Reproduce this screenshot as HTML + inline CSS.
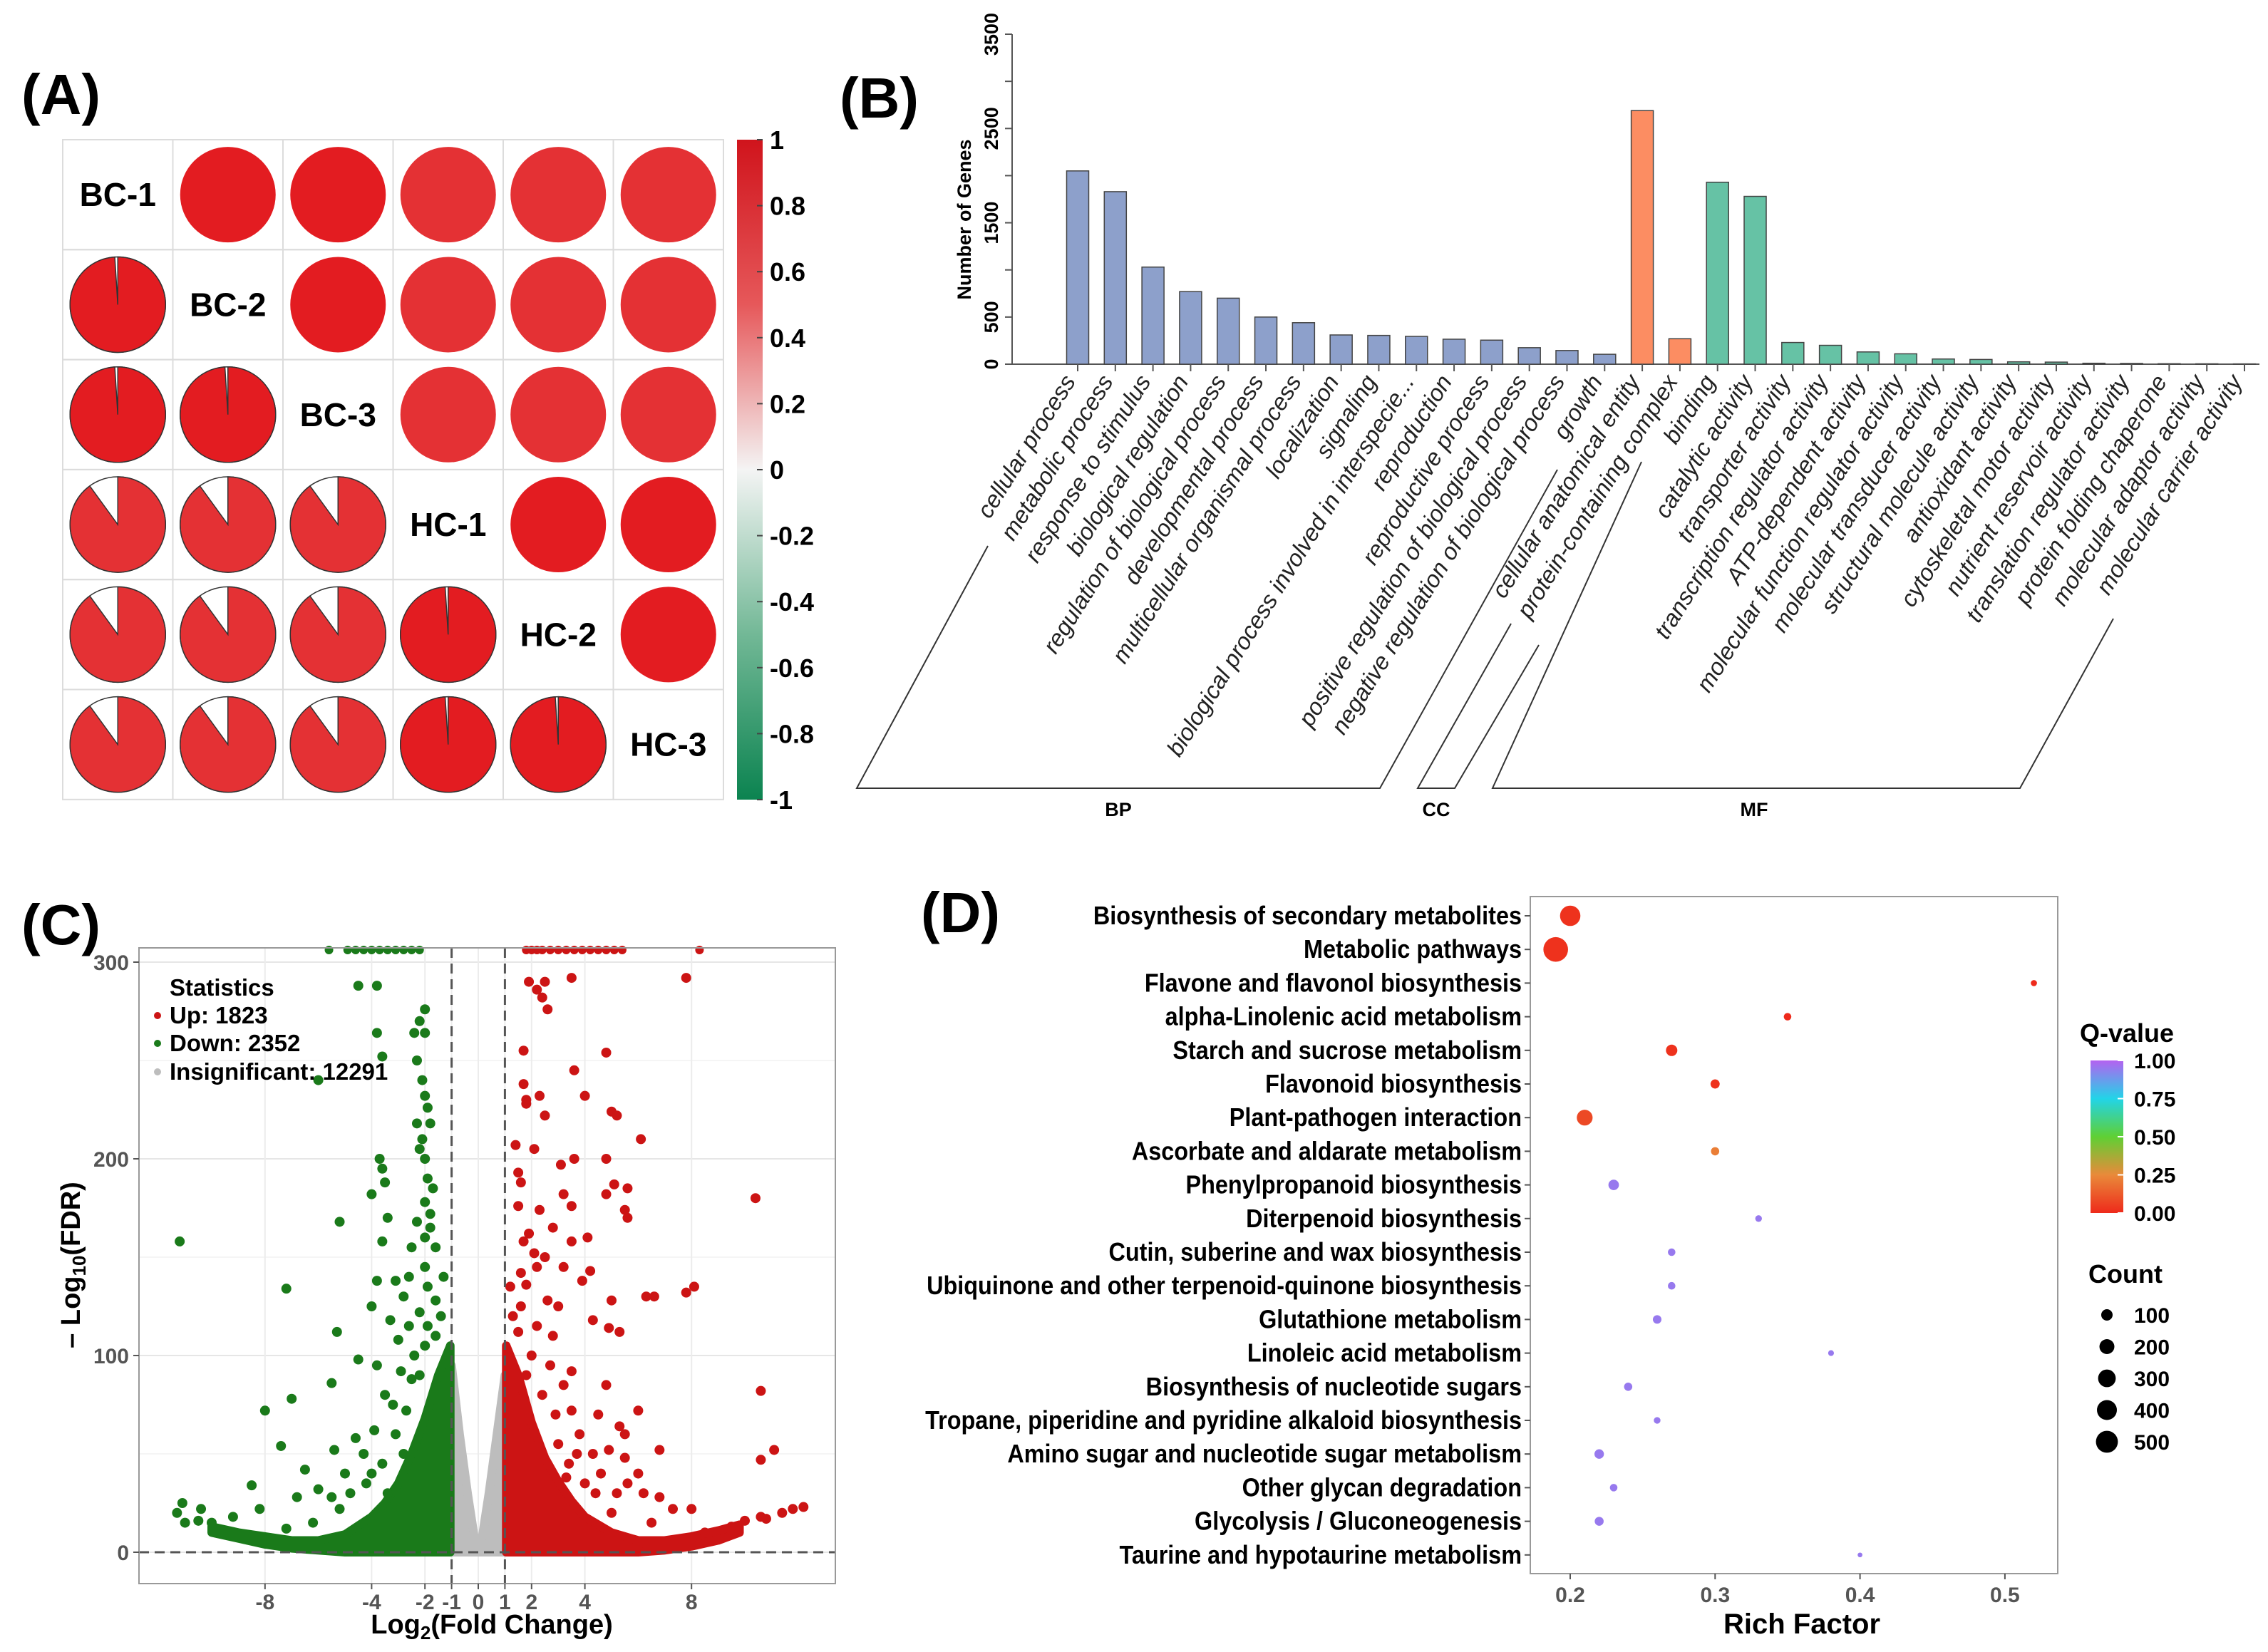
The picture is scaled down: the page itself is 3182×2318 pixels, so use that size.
<!DOCTYPE html>
<html><head><meta charset="utf-8"><style>
html,body{margin:0;padding:0;background:#fff}
svg{display:block}
text{font-family:"Liberation Sans",sans-serif}
</style></head><body>
<svg id="fig" width="3182" height="2318" viewBox="0 0 3182 2318" xmlns="http://www.w3.org/2000/svg">
<defs>
<linearGradient id="corrGrad" x1="0" y1="0" x2="0" y2="1">
<stop offset="0" stop-color="#d0141c"/><stop offset="0.25" stop-color="#e6585a"/><stop offset="0.5" stop-color="#f4f4f4"/><stop offset="0.75" stop-color="#72b896"/><stop offset="1" stop-color="#0b8350"/>
</linearGradient>
<linearGradient id="qGrad" x1="0" y1="1" x2="0" y2="0">
<stop offset="0" stop-color="#ee2a1b"/><stop offset="0.25" stop-color="#e98a3a"/><stop offset="0.5" stop-color="#5fd034"/><stop offset="0.75" stop-color="#22d4e8"/><stop offset="1" stop-color="#b462f0"/>
</linearGradient>
</defs>
<g id="pA"></g>
<g id="pB"></g>
<g id="pC"></g>
<g id="pD"></g>
</svg>
<script>
// ---------- Panel A data ----------
const samples = ["BC-1","BC-2","BC-3","HC-1","HC-2","HC-3"];
const corrMatrix = [
 [1,0.99,0.99,0.90,0.90,0.90],
 [0.99,1,0.99,0.90,0.90,0.90],
 [0.99,0.99,1,0.90,0.90,0.90],
 [0.90,0.90,0.90,1,0.99,0.99],
 [0.90,0.90,0.90,0.99,1,0.99],
 [0.90,0.90,0.90,0.99,0.99,1]];
const corrTicks = [1,0.8,0.6,0.4,0.2,0,-0.2,-0.4,-0.6,-0.8,-1];

// ---------- Panel B data ----------
const goTerms = ["cellular process","metabolic process","response to stimulus","biological regulation","regulation of biological process","developmental process","multicellular organismal process","localization","signaling","biological process involved in interspecie...","reproduction","reproductive process","positive regulation of biological process","negative regulation of biological process","growth","cellular anatomical entity","protein-containing complex","binding","catalytic activity","transporter activity","transcription regulator activity","ATP-dependent activity","molecular function regulator activity","molecular transducer activity","structural molecule activity","antioxidant activity","cytoskeletal motor activity","nutrient reservoir activity","translation regulator activity","protein folding chaperone","molecular adaptor activity","molecular carrier activity"];
const goCounts = [2050,1830,1030,770,700,500,440,310,305,295,265,255,175,145,105,2690,270,1930,1780,230,200,130,110,55,50,25,22,10,8,5,4,3];
const goClass = ["BP","BP","BP","BP","BP","BP","BP","BP","BP","BP","BP","BP","BP","BP","BP","CC","CC","MF","MF","MF","MF","MF","MF","MF","MF","MF","MF","MF","MF","MF","MF","MF"];
const goTicks = [0,500,1500,2500,3500];

// ---------- Panel C data ----------
const upPts = [[1.9,290],[2.2,286],[2.5,290],[2.4,282],[2.6,276],[3.5,292],[7.8,292],[1.7,255],[4.8,254],[3.6,245],[1.7,238],[2.3,232],[1.8,230],[4,232],[1.8,228],[2.5,222],[5,224],[5.2,222],[6.1,210],[1.4,207],[2.1,205],[1.5,193],[3.1,197],[3.6,200],[4.8,200],[1.6,188],[5.1,187],[5.6,185],[3.2,182],[4.8,182],[1.5,176],[2.3,174],[3.5,176],[5.5,174],[5.6,170],[10.4,180],[1.9,162],[2.8,165],[4.1,160],[3.5,158],[1.7,158],[2.1,152],[2.5,150],[2.2,145],[3.2,145],[4.2,143],[1.6,142],[1.8,136],[3.9,138],[6.3,130],[6.6,130],[7.8,132],[8.1,135],[4.3,118],[3,125],[5,128],[4.9,114],[5.3,112],[3.5,92],[4.8,85],[10.6,82],[6,72],[4.5,70],[3.5,72],[5.3,64],[6.8,52],[10.6,47],[11.1,52],[5.5,60],[4.3,50],[4.9,52],[5.5,48],[6,40],[4,35],[5.6,35],[6.2,30],[7.3,22],[8,22],[11.8,22],[12.2,23],[11.4,20],[10.6,18],[10.8,17],[10,16],[9.5,13],[8.5,10],[1.3,120],[1.5,112],[2,100],[2.7,95],[3.2,85],[1.8,90],[2.4,80],[3.8,60],[3,55],[4.6,40],[5.2,30],[6.8,28],[3.4,45],[2.8,110],[1.2,135],[2.6,128],[2.2,115],[1.6,125],[2.9,70],[3.7,50],[4.4,30],[5,20],[6.5,15],[2.1,60],[3.3,38]];
const upTop = [1.8,2.0,2.2,2.4,2.7,3.0,3.3,3.6,3.9,4.2,4.5,4.8,5.1,5.4,8.3];
const downPts = [[-4.5,288],[-3.8,288],[-2,276],[-2.2,270],[-3.8,264],[-2.4,264],[-2,264],[-2.3,250],[-6,240],[-3.6,252],[-2.1,240],[-2,232],[-1.9,226],[-2.3,218],[-1.8,218],[-2.1,210],[-2.2,205],[-3.7,200],[-3.6,195],[-2,200],[-1.9,190],[-3.5,188],[-4,182],[-1.7,185],[-2,178],[-1.8,172],[-3.4,170],[-1.8,165],[-5.2,168],[-2.3,168],[-2,160],[-2.5,155],[-3.6,158],[-1.6,155],[-11.2,158],[-2,145],[-2.6,140],[-3.8,138],[-3.1,138],[-1.9,135],[-7.2,134],[-1.6,128],[-2.8,130],[-4,125],[-2.2,122],[-3.3,118],[-1.9,115],[-5.3,112],[-3,108],[-2,105],[-4.5,98],[-3.8,95],[-5.5,86],[-2.5,88],[-7,78],[-8,72],[-3.2,75],[-2.7,72],[-4.6,58],[-7.4,54],[-5.4,52],[-6.5,42],[-4,40],[-8.5,34],[-6.8,28],[-11.1,25],[-11.3,20],[-10.4,22],[-10.5,16],[-9.2,18],[-11,15],[-10,15],[-8.2,22],[-6,32],[-5.5,28],[-1.4,120],[-1.6,110],[-2.4,100],[-2.9,92],[-3.5,80],[-2.2,90],[-3.9,62],[-4.3,50],[-5,40],[-4.8,30],[-2.6,115],[-1.3,140],[-3.1,60],[-3.6,45],[-4.2,35],[-5.2,22],[-6.2,15],[-7.2,12],[-2.8,50],[-3.4,30]];
const downTop = [-5.6,-4.9,-4.6,-4.3,-4.0,-3.7,-3.4,-3.1,-2.8,-2.5,-2.2];
const downEnvX = [-10,-9,-8,-7,-6,-5,-4,-3.5,-3,-2.5,-2,-1.5,-1.05];
const downEnvY = [13,10,8,6,6,9,18,25,35,50,68,90,105];
const downEnvLow = [10,7,4,2,1,0,0,0,0,0,0,0,0];
const upEnvX = [1.05,1.5,2,2.5,3,3.5,4,5,6,7,8,9,9.8];
const upEnvY = [105,90,66,48,36,26,18,10,6,6,8,11,14];
const upEnvLow = [0,0,0,0,0,0,0,0,0,1,3,6,10];
const insEnvX = [-1,-0.7,-0.4,-0.15,0,0.15,0.4,0.7,1];
const insEnvY = [95,60,30,8,2,8,30,60,90];
const volXTicks = [-8,-4,-2,-1,0,1,2,4,8];
const volYTicks = [0,100,200,300];

// ---------- Panel D data ----------
const pathways = ["Biosynthesis of secondary metabolites","Metabolic pathways","Flavone and flavonol biosynthesis","alpha-Linolenic acid metabolism","Starch and sucrose metabolism","Flavonoid biosynthesis","Plant-pathogen interaction","Ascorbate and aldarate metabolism","Phenylpropanoid biosynthesis","Diterpenoid biosynthesis","Cutin, suberine and wax biosynthesis","Ubiquinone and other terpenoid-quinone biosynthesis","Glutathione metabolism","Linoleic acid metabolism","Biosynthesis of nucleotide sugars","Tropane, piperidine and pyridine alkaloid biosynthesis","Amino sugar and nucleotide sugar metabolism","Other glycan degradation","Glycolysis / Gluconeogenesis","Taurine and hypotaurine metabolism"];
const richFactor = [0.20,0.19,0.52,0.35,0.27,0.30,0.21,0.30,0.23,0.33,0.27,0.27,0.26,0.38,0.24,0.26,0.22,0.23,0.22,0.40];
const qValue = [0.02,0.02,0.0,0.0,0.02,0.02,0.08,0.22,0.95,0.95,0.95,0.95,0.95,0.95,0.95,0.95,0.95,0.95,0.95,0.95];
const geneCount = [420,650,15,30,100,55,230,40,80,20,30,30,45,12,40,20,60,30,50,5];
const richTicks = [0.2,0.3,0.4,0.5];
const qTicks = [1.00,0.75,0.50,0.25,0.00];
const countTicks = [100,200,300,400,500];

const NS="http://www.w3.org/2000/svg";
function mk(parent,tag,attrs,txt){const e=document.createElementNS(NS,tag);for(const k in attrs)e.setAttribute(k,attrs[k]);if(txt!==undefined)e.textContent=txt;parent.appendChild(e);return e;}

// ================= Panel A =================
(function(){
const g=document.getElementById('pA');
let t=mk(g,'text',{x:30,y:160,'font-size':80,'font-weight':'bold'},'(A)');

const x0=88,y0=196,cw=154.5,ch=154.3,n=6,R=67;
function col(v){ if(v>=0.97) return '#e31c21'; return '#e43134'; }
for(let i=0;i<n;i++)for(let j=0;j<n;j++){
  const cx=x0+cw*j+cw/2, cy=y0+ch*i+ch/2;
  const cell=mk(g,'rect',{x:x0+cw*j,y:y0+ch*i,width:cw,height:ch,fill:'none',stroke:'#dcdcdc','stroke-width':2});
  
  const v=corrMatrix[i][j];
  if(i===j){
    const l=mk(g,'text',{x:cx,y:cy+16,'font-size':46,'font-weight':'bold','text-anchor':'middle'},samples[i]);
    
  } else if(j>i){
    const c=mk(g,'circle',{cx:cx,cy:cy,r:R,fill:col(v)});
    
  } else {
    const bg=mk(g,'circle',{cx:cx,cy:cy,r:R,fill:'#fff',stroke:'#333','stroke-width':1.5});
    
    const ang=2*Math.PI*v;
    const ex=cx+R*Math.sin(ang), ey=cy-R*Math.cos(ang);
    const large=v>0.5?1:0;
    const p=mk(g,'path',{d:`M${cx},${cy} L${cx},${cy-R} A${R},${R} 0 ${large} 1 ${ex},${ey} Z`,fill:col(v),stroke:'#333','stroke-width':1.5});
    
  }
}
const cb=mk(g,'rect',{x:1034,y:196,width:36,height:926,fill:'url(#corrGrad)'});

corrTicks.forEach(v=>{
  const y=196+(1-v)/2*926;
  mk(g,'line',{x1:1062,x2:1070,y1:y,y2:y,stroke:'#444','stroke-width':2});
  const tt=mk(g,'text',{x:1080,y:y+13,'font-size':36,'font-weight':'bold'},String(v));
  
});
})();

// ================= Panel B =================
(function(){
const g=document.getElementById('pB');
let t=mk(g,'text',{x:1178,y:165,'font-size':80,'font-weight':'bold'},'(B)');

const y0=511, yTop=48, vmax=3500;
const yS=v=>y0-(v/vmax)*(y0-yTop);
const xFirst=1512, step=(3149-1512)/31, bw=31;
const xS=i=>xFirst+i*step;
const colors={BP:'#8da0cb',CC:'#fc8d62',MF:'#66c2a5'};
mk(g,'line',{x1:1420,x2:1420,y1:yS(0),y2:yS(3500),stroke:'#555','stroke-width':2});
mk(g,'line',{x1:1420,x2:3170,y1:y0,y2:y0,stroke:'#555','stroke-width':2});
[0,500,1000,1500,2000,2500,3000,3500].forEach(v=>mk(g,'line',{x1:1410,x2:1420,y1:yS(v),y2:yS(v),stroke:'#555','stroke-width':2}));
goTicks.forEach(v=>{
  const y=yS(v);
  const tt=mk(g,'text',{x:1400,y:y,'font-size':27,'font-weight':'bold','text-anchor':'middle',transform:`rotate(-90 1400 ${y})`},String(v));
  
});
const yt=mk(g,'text',{x:1362,y:308,'font-size':27,'font-weight':'bold','text-anchor':'middle',transform:'rotate(-90 1362 308)'},'Number of Genes');

goCounts.forEach((v,i)=>{
  const cx=xS(i);
  const b=mk(g,'rect',{x:cx-bw/2,y:yS(v),width:bw,height:y0-yS(v),fill:colors[goClass[i]],stroke:'#444','stroke-width':1.5});
  
  mk(g,'line',{x1:cx,x2:cx,y1:y0,y2:y0+10,stroke:'#555','stroke-width':2});
  const lx=cx-2, ly=y0+24;
  const l=mk(g,'text',{x:lx,y:ly,'font-size':33,'font-style':'italic','text-anchor':'end',fill:'#222',transform:`rotate(-58 ${lx} ${ly})`},goTerms[i]);
  
});
const br=[
 {pts:[[1386,766],[1202,1106],[1936,1106],[2185,659]],lab:'BP',lx:1569},
 {pts:[[2120,875],[1989,1106],[2041,1106],[2159,905]],lab:'CC',lx:2015},
 {pts:[[2303,648],[2094,1106],[2834,1106],[2965,868]],lab:'MF',lx:2461}];
br.forEach(b=>{
  const p=mk(g,'polyline',{points:b.pts.map(q=>q.join(',')).join(' '),fill:'none',stroke:'#333','stroke-width':2});
  
  const tl=mk(g,'text',{x:b.lx,y:1145,'font-size':27,'font-weight':'bold','text-anchor':'middle'},b.lab);
  
});
})();

// ================= Panel C =================
(function(){
const g=document.getElementById('pC');
let t=mk(g,'text',{x:30,y:1325,'font-size':80,'font-weight':'bold'},'(C)');

const L=195,R=1172,T=1330,B=2222;
const xS=v=>671+v*37.4;
const yS=v=>2178-v*2.76;
const clipY=v=>Math.max(T+2,yS(v));
mk(g,'rect',{x:L,y:T,width:R-L,height:B-T,fill:'#fff',stroke:'#999','stroke-width':2});
[50,150,250].forEach(v=>mk(g,'line',{x1:L,x2:R,y1:yS(v),y2:yS(v),stroke:'#f2f2f2','stroke-width':1.5}));
volYTicks.forEach(v=>mk(g,'line',{x1:L,x2:R,y1:yS(v),y2:yS(v),stroke:'#e6e6e6','stroke-width':2}));
volXTicks.forEach(v=>mk(g,'line',{x1:xS(v),x2:xS(v),y1:T,y2:B,stroke:'#ececec','stroke-width':2}));
function env(xs,ys,low,color,name){
  let d='';
  xs.forEach((x,i)=>d+=(i?'L':'M')+`${xS(x)},${yS(ys[i])} `);
  for(let i=xs.length-1;i>=0;i--) d+=`L${xS(xs[i])},${yS(low?low[i]:0)} `;
  d+='Z';
  const p=mk(g,'path',{d:d,fill:color,stroke:color,'stroke-width':12,'stroke-linejoin':'round'});
  
}
env(insEnvX,insEnvY,null,'#bdbdbd','insignificant-density');
env(downEnvX,downEnvY,downEnvLow,'#1a7a1a','down-density');
env(upEnvX,upEnvY,upEnvLow,'#cc1414','up-density');
downPts.forEach(p=>{const c=mk(g,'circle',{cx:xS(p[0]),cy:clipY(p[1]),r:7,fill:'#1a7a1a'});});
upPts.forEach(p=>{const c=mk(g,'circle',{cx:xS(p[0]),cy:clipY(p[1]),r:7,fill:'#cc1414'});});
downTop.forEach(x=>{const c=mk(g,'circle',{cx:xS(x),cy:T+3,r:6,fill:'#1a7a1a'});});
upTop.forEach(x=>{const c=mk(g,'circle',{cx:xS(x),cy:T+3,r:6,fill:'#cc1414'});});
[-1,1].forEach(v=>mk(g,'line',{x1:xS(v),x2:xS(v),y1:T,y2:B,stroke:'#555','stroke-width':3,'stroke-dasharray':'14,8'}));
mk(g,'line',{x1:L,x2:R,y1:yS(0),y2:yS(0),stroke:'#555','stroke-width':3,'stroke-dasharray':'14,8'});
mk(g,'rect',{x:L,y:T,width:R-L,height:B-T,fill:'none',stroke:'#999','stroke-width':2});
volYTicks.forEach(v=>{
  mk(g,'line',{x1:L-8,x2:L,y1:yS(v),y2:yS(v),stroke:'#555','stroke-width':2});
  const tt=mk(g,'text',{x:L-14,y:yS(v)+11,'font-size':30,'font-weight':'bold','text-anchor':'end',fill:'#555'},String(v));
  
});
volXTicks.forEach(v=>{
  mk(g,'line',{x1:xS(v),x2:xS(v),y1:B,y2:B+8,stroke:'#555','stroke-width':2});
  const tt=mk(g,'text',{x:xS(v),y:B+36,'font-size':30,'font-weight':'bold','text-anchor':'middle',fill:'#555'},String(v));
  
});
const xt=mk(g,'text',{x:690,y:2292,'font-size':38,'font-weight':'bold','text-anchor':'middle'});
xt.innerHTML='Log<tspan font-size="26" dy="8">2</tspan><tspan dy="-8">(Fold Change)</tspan>';

const yt=mk(g,'text',{x:112,y:1775,'font-size':38,'font-weight':'bold','text-anchor':'middle',transform:'rotate(-90 112 1775)'});
yt.innerHTML='– Log<tspan font-size="26" dy="8">10</tspan><tspan dy="-8">(FDR)</tspan>';

const lg=mk(g,'g',{});
mk(lg,'text',{x:238,y:1397,'font-size':33,'font-weight':'bold'},'Statistics');
[['Up: 1823','#cc1414',1436],['Down: 2352','#1a7a1a',1475],['Insignificant: 12291','#bdbdbd',1515]].forEach(r=>{
  const c=mk(lg,'circle',{cx:221,cy:r[2]-11,r:5,fill:r[1]});
  const tt=mk(lg,'text',{x:238,y:r[2],'font-size':33,'font-weight':'bold'},r[0]);
});
})();

// ================= Panel D =================
(function(){
const g=document.getElementById('pD');
let t=mk(g,'text',{x:1292,y:1308,'font-size':80,'font-weight':'bold'},'(D)');

const L=2147,R=2887,T=1258,B=2208;
const xS=v=>2203+(v-0.2)*2033;
const yS=i=>1285+i*47.2;
const rS=c=>2+0.6*Math.sqrt(c);
const stops=[[0,[238,42,27]],[0.25,[233,138,58]],[0.5,[95,208,52]],[0.75,[34,212,232]],[1,[180,98,240]]];
function qCol(q){for(let i=0;i<stops.length-1;i++){const a=stops[i],b=stops[i+1];if(q<=b[0]){const f=(q-a[0])/(b[0]-a[0]);const c=a[1].map((v,k)=>Math.round(v+(b[1][k]-v)*f));return `rgb(${c})`;}}return 'rgb(180,98,240)';}
mk(g,'rect',{x:L,y:T,width:R-L,height:B-T,fill:'#fff',stroke:'#999','stroke-width':2});
pathways.forEach((p,i)=>{
  const y=yS(i);
  mk(g,'line',{x1:L-8,x2:L,y1:y,y2:y,stroke:'#555','stroke-width':2});
  const tt=mk(g,'text',{x:0,y:0,'font-size':36,'font-weight':'bold','text-anchor':'end',transform:`translate(${L-12} ${y+12}) scale(0.9 1)`},p);
  
  const c=mk(g,'circle',{cx:xS(richFactor[i]),cy:y,r:rS(geneCount[i]),fill:qCol(qValue[i])});
  
});
richTicks.forEach(v=>{
  mk(g,'line',{x1:xS(v),x2:xS(v),y1:B,y2:B+8,stroke:'#555','stroke-width':2});
  const tt=mk(g,'text',{x:xS(v),y:B+40,'font-size':30,'font-weight':'bold','text-anchor':'middle',fill:'#555'},v.toFixed(1));
  
});
const xt=mk(g,'text',{x:2528,y:2292,'font-size':40,'font-weight':'bold','text-anchor':'middle'},'Rich Factor');

const qt=mk(g,'text',{x:2918,y:1462,'font-size':36,'font-weight':'bold'},'Q-value');

const qb=mk(g,'rect',{x:2933,y:1488,width:46,height:214,fill:'url(#qGrad)'});

qTicks.forEach(v=>{
  const y=1702-v*214;
  mk(g,'line',{x1:2971,x2:2979,y1:y,y2:y,stroke:'#fff','stroke-width':2});
  const tt=mk(g,'text',{x:2994,y:y+11,'font-size':30,'font-weight':'bold'},v.toFixed(2));
  
});
const ct=mk(g,'text',{x:2930,y:1800,'font-size':36,'font-weight':'bold'},'Count');

countTicks.forEach((v,i)=>{
  const y=1845+i*44.5;
  const c=mk(g,'circle',{cx:2956,cy:y,r:rS(v),fill:'#000'});
  
  const tt=mk(g,'text',{x:2994,y:y+11,'font-size':30,'font-weight':'bold'},String(v));
  
});
})();
</script>
</body></html>
